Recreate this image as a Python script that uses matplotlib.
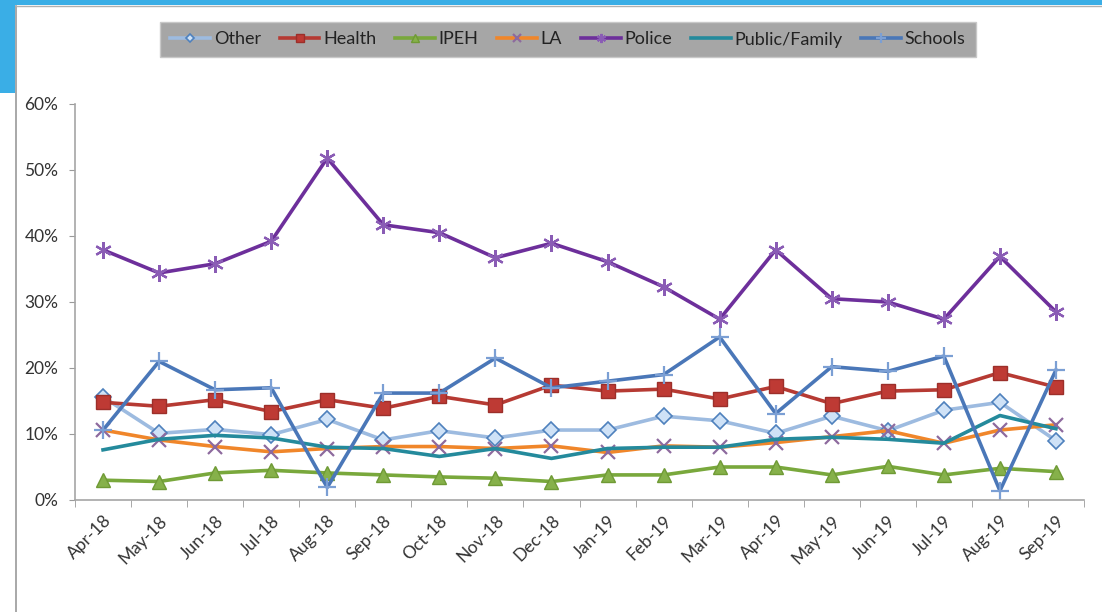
import matplotlib
matplotlib.use("Agg")
import matplotlib.pyplot as plt
from matplotlib.lines import Line2D
from matplotlib.patches import Rectangle
from matplotlib.ticker import PercentFormatter, FixedLocator

plt.rcParams['font.family'] = ['Lato', 'DejaVu Sans']

months = ["Apr-18", "May-18", "Jun-18", "Jul-18", "Aug-18", "Sep-18", "Oct-18", "Nov-18",
          "Dec-18", "Jan-19", "Feb-19", "Mar-19", "Apr-19", "May-19", "Jun-19", "Jul-19",
          "Aug-19", "Sep-19"]

other = [15.6, 10.1, 10.7, 9.9, 12.2, 9.1, 10.5, 9.4, 10.6, 10.6, 12.7, 12.0, 10.1, 12.7, 10.5, 13.6, 14.8, 9.0]
health = [14.8, 14.2, 15.2, 13.4, 15.2, 13.9, 15.7, 14.4, 17.4, 16.5, 16.8, 15.3, 17.2, 14.6, 16.5, 16.7, 19.3, 17.1]
ipeh = [3.0, 2.8, 4.1, 4.5, 4.1, 3.8, 3.5, 3.3, 2.8, 3.8, 3.8, 5.0, 5.0, 3.8, 5.1, 3.8, 4.8, 4.3]
la = [10.6, 9.1, 8.1, 7.3, 7.8, 8.1, 8.1, 7.8, 8.2, 7.2, 8.2, 8.0, 8.7, 9.6, 10.5, 8.6, 10.6, 11.4]
police = [37.9, 34.4, 35.8, 39.2, 51.8, 41.7, 40.5, 36.7, 38.9, 36.1, 32.3, 27.4, 37.9, 30.5, 30.0, 27.4, 36.9, 28.5]
public_family = [7.6, 9.2, 9.8, 9.4, 8.0, 7.8, 6.6, 7.8, 6.3, 7.8, 8.0, 8.0, 9.2, 9.5, 9.2, 8.6, 12.8, 10.8]
schools = [10.6, 21.0, 16.7, 17.0, 1.9, 16.2, 16.2, 21.5, 17.0, 18.0, 19.0, 24.7, 13.1, 20.2, 19.5, 21.8, 1.4, 19.7]

series_names = ["Other", "Health", "IPEH", "LA", "Police", "Public/Family", "Schools"]
series_values = [other, health, ipeh, la, police, public_family, schools]

styles = {
    "Other": dict(color="#9dbbe0", marker="D", markersize=8, markerfacecolor="#cfe2f7",
                  markeredgecolor="#4f81bd", markeredgewidth=1.2),
    "Health": dict(color="#b63a33", marker="s", markersize=10, markerfacecolor="#be3a34",
                   markeredgecolor="#9c2f2a", markeredgewidth=1.0),
    "IPEH": dict(color="#79a83c", marker="^", markersize=10, markerfacecolor="#86b14a",
                 markeredgecolor="#6f9a35", markeredgewidth=1.0),
    "LA": dict(color="#f0862a", marker="x", markersize=10, markeredgecolor="#8d6a9e",
               markeredgewidth=1.6),
    "Police": dict(color="#6d2f9b", marker=(6, 2, 0), markersize=12, markeredgecolor="#8a5cb5",
                   markeredgewidth=1.6),
    "Public/Family": dict(color="#248a9c", marker=None),
    "Schools": dict(color="#4a77b8", marker="+", markersize=13, markeredgecolor="#7b9fd4",
                    markeredgewidth=1.6),
}

fig = plt.figure(figsize=(11.02, 6.12), dpi=100)
fig.patch.set_facecolor("white")

# slide decoration
fig.add_artist(Rectangle((0, 1 - 5 / 612), 1, 5 / 612, transform=fig.transFigure,
                         facecolor="#3aaee6", edgecolor="none", zorder=5))
fig.add_artist(Rectangle((0, 1 - 93 / 612), 15 / 1102, 93 / 612, transform=fig.transFigure,
                         facecolor="#3aaee6", edgecolor="none", zorder=5))
fig.add_artist(Line2D([16 / 1102, 16 / 1102], [0, 1 - 6 / 612], transform=fig.transFigure,
                      color="#9a9a9a", lw=1.2, zorder=4))
fig.add_artist(Line2D([16 / 1102, 1], [1 - 6 / 612, 1 - 6 / 612], transform=fig.transFigure,
                      color="#b0b0b0", lw=1.0, zorder=4))

ax = fig.add_axes([75 / 1102, 1 - 500 / 612, (1084 - 75) / 1102, (500 - 104) / 612])
x = list(range(len(months)))
for name, vals in zip(series_names, series_values):
    st = dict(styles[name])
    ax.plot(x, vals, lw=2.6, label=name, solid_joinstyle="round", **st)

ax.set_xlim(-0.5, len(months) - 0.5)
ax.set_ylim(0, 60)
ax.yaxis.set_major_locator(FixedLocator([0, 10, 20, 30, 40, 50, 60]))
ax.yaxis.set_major_formatter(PercentFormatter(decimals=0))
ax.set_xticks(x)
ax.set_xticklabels(months, rotation=45, ha="right", rotation_mode="anchor")
ax.set_xticks([i - 0.5 for i in range(len(months) + 1)], minor=True)
ax.tick_params(axis="x", which="major", length=0, pad=9, labelsize=12.5, labelcolor="#333333")
ax.tick_params(axis="x", which="minor", length=5, color="#9a9a9a", direction="out")
ax.tick_params(axis="y", length=4, color="#9a9a9a", labelsize=12.5, labelcolor="#333333", pad=8)
for s in ["top", "right"]:
    ax.spines[s].set_visible(False)
for s in ["left", "bottom"]:
    ax.spines[s].set_color("#a6a6a6")
    ax.spines[s].set_linewidth(1.2)

leg_handles = []
for name in series_names:
    st = dict(styles[name])
    if "markersize" in st:
        st["markersize"] = st["markersize"] * 0.55
    leg_handles.append(Line2D([], [], lw=2.6, **st))

leg = fig.legend(leg_handles, series_names, loc="center", ncol=7,
                 bbox_to_anchor=(568 / 1102, 1 - 39.5 / 612), frameon=True, fancybox=False,
                 facecolor="#a6a6a6", edgecolor="#c8c8c8", framealpha=1, fontsize=13,
                 handlelength=2.2, handletextpad=0.2, columnspacing=1.05,
                 borderpad=0.55)
for t in leg.get_texts():
    t.set_color("#222222")

fig.savefig("out.png", dpi=100)
